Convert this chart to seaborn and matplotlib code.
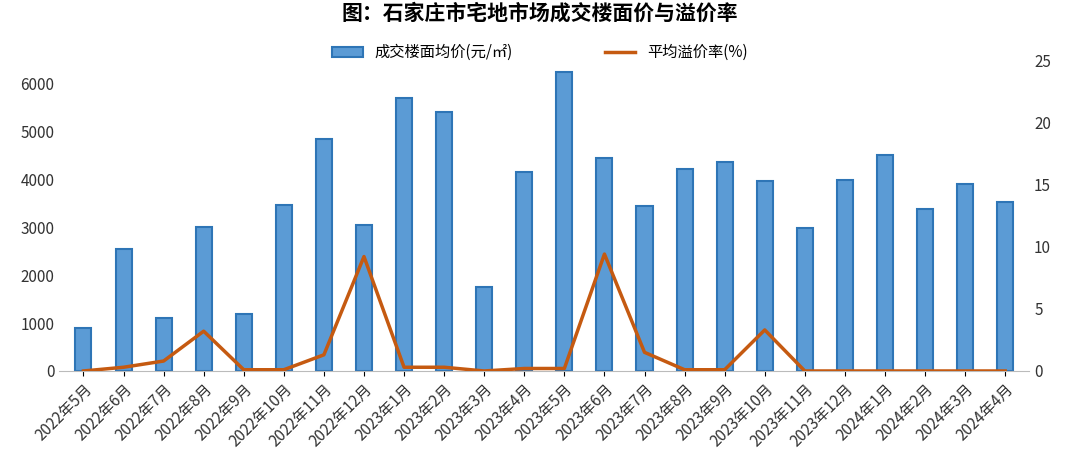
import matplotlib
matplotlib.use("Agg")
import matplotlib.pyplot as plt
import seaborn as sns
import pandas as pd

plt.rcParams["font.family"] = ["Noto Sans CJK SC", "DejaVu Sans"]

months = ["2022年5月","2022年6月","2022年7月","2022年8月","2022年9月","2022年10月","2022年11月","2022年12月",
          "2023年1月","2023年2月","2023年3月","2023年4月","2023年5月","2023年6月","2023年7月","2023年8月",
          "2023年9月","2023年10月","2023年11月","2023年12月","2024年1月","2024年2月","2024年3月","2024年4月"]
price = [900,2550,1100,3020,1200,3470,4850,3060,5700,5420,1750,4150,6250,4460,3450,4230,4360,3970,2980,3990,4520,3380,3910,3540]
premium = [0,0.3,0.8,3.2,0.1,0.1,1.3,9.2,0.3,0.3,0,0.2,0.2,9.4,1.5,0.1,0.1,3.3,0,0,0,0,0,0]

df = pd.DataFrame({"month": months, "price": price, "premium": premium, "x": range(len(months))})

fig, ax = plt.subplots(figsize=(10.8, 4.69), dpi=100)
fig.subplots_adjust(left=0.055, right=0.953, top=0.872, bottom=0.209)
sns.barplot(data=df, x="x", y="price", ax=ax, color="#5B9BD5", edgecolor="#2E75B6",
            linewidth=1.5, width=0.4, saturation=1, label="成交楼面均价(元/㎡)")
ax.set_ylim(0, 6500)
ax.set_yticks(range(0, 6001, 1000))
ax.set_xticks(range(len(months)))
ax.set_xticklabels(months, rotation=45, ha="right", rotation_mode="anchor", fontsize=11, color="#333")
ax.set_xlabel(""); ax.set_ylabel("")
ax.tick_params(axis="y", labelsize=11, colors="#333", length=0)
ax.set_xlim(-0.6, len(months) - 0.4)
for s in ["top", "right", "left"]:
    ax.spines[s].set_visible(False)
ax.spines["bottom"].set_color("#bbb")

ax2 = ax.twinx()
sns.lineplot(data=df, x="x", y="premium", ax=ax2, color="#C55A11", linewidth=2.5, label="平均溢价率(%)")
ax2.set_ylim(0, 25)
ax2.set_yticks(range(0, 26, 5))
ax2.set_ylabel("")
ax2.tick_params(axis="y", labelsize=11, colors="#333", length=0)
for s in ["top", "right", "left", "bottom"]:
    ax2.spines[s].set_visible(False)

h1, l1 = ax.get_legend_handles_labels()
h2, l2 = ax2.get_legend_handles_labels()
if ax.get_legend(): ax.get_legend().remove()
if ax2.get_legend(): ax2.get_legend().remove()
fig.legend(h1 + h2, l1 + l2, loc="upper center", bbox_to_anchor=(0.5, 0.935), ncol=2,
           frameon=False, fontsize=11, columnspacing=6)
fig.suptitle("图：石家庄市宅地市场成交楼面价与溢价率", fontsize=15, fontweight="bold", y=0.995)
fig.savefig("out.png", dpi=100)
